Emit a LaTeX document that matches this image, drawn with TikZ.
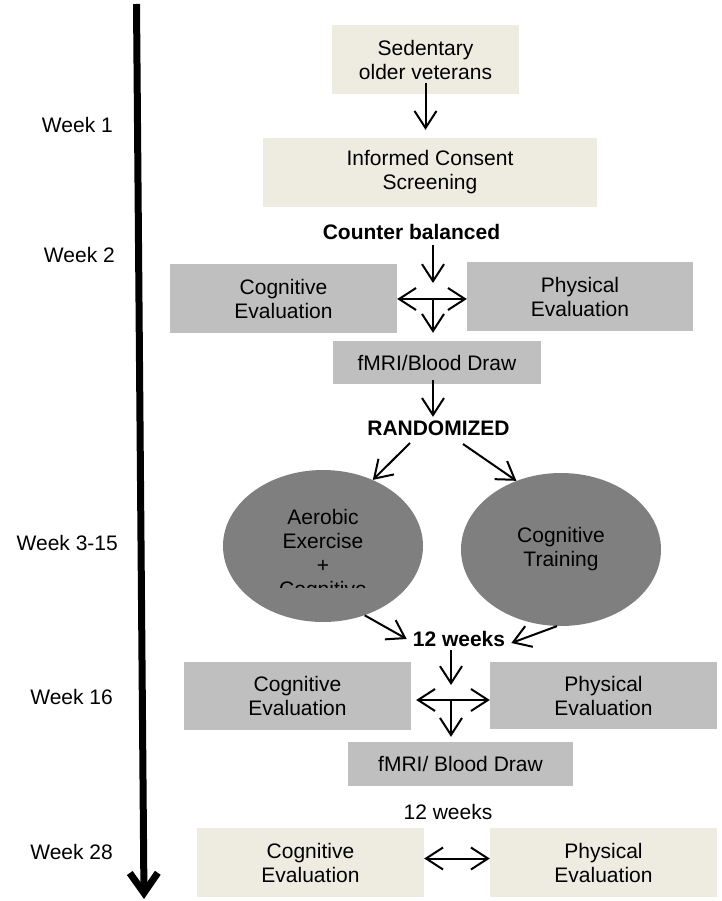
\documentclass[tikz,border=0pt]{standalone}
\usepackage{fontspec}
\setmainfont{Liberation Sans}
\usetikzlibrary{arrows.meta,shapes.geometric}
\definecolor{tanbox}{HTML}{EEECE1}
\definecolor{greybox}{HTML}{BFBFBF}
\definecolor{greyoval}{HTML}{7F7F7F}

\begin{document}
\begin{tikzpicture}
[x=1pt, y=-1pt, font={\fontsize{21}{24}\selectfont},
ar/.style={-{Straight Barb[length=17pt,width=22pt]}, line width=2pt},
dar/.style={{Straight Barb[length=17pt,width=22pt]}-{Straight Barb[length=17pt,width=22pt]}, line width=2pt},
mybox/.style={
  rectangle, inner sep=0pt, minimum width=227pt, minimum height=69pt,
  align=center
  }
]

\tikzstyle{tannode}  =  [mybox, fill=tanbox]
\tikzstyle{greynode}  =  [mybox, fill=greybox]
\tikzstyle{ovalnode}  =  [ellipse, fill=greyoval, inner sep=0pt, minimum width=200pt, minimum height=152pt, align=center]
\tikzstyle{weeknode}  =  [anchor=east, inner sep=0pt]
\tikzstyle{plaintext}  =  [inner sep=0pt, align=center]

\useasboundingbox (0,0) rectangle (721,901);

% timeline
\coordinate (tltop) at (136.5,4);
\coordinate (tlend) at (144,899);
\draw[line width=7pt, -{Straight Barb[length=20pt,width=28pt]}] (tltop) -- (tlend);

\node[weeknode] (wk1) at (113,125) {Week 1};
\node[weeknode] (wk2) at (115,255) {Week 2};
\node[weeknode] (wk3) at (118,543) {Week 3-15};
\node[weeknode] (wk16) at (113,697) {Week 16};
\node[weeknode] (wk28) at (113,852) {Week 28};

\node[tannode, minimum width=187pt] (sed) at (425.5,59.5) {Sedentary\\older veterans};
\node[tannode, minimum width=334pt] (cons) at (430,172.5) {Informed Consent\\Screening};
\node[plaintext] (cb) at (411.5,232) {\bfseries Counter balanced};

\node[greynode] (cog1) at (283.5,298.5) {Cognitive\\Evaluation};
\node[greynode, minimum width=226pt] (phy1) at (580,296.5) {Physical\\Evaluation};
\node[greynode, minimum width=208pt, minimum height=43pt] (mri1) at (437,362.5) {fMRI/Blood Draw};
\node[plaintext] (rand) at (438.5,428) {\bfseries RANDOMIZED};

\node[ovalnode] (aer) at (323,546) {};
\begin{scope}
\clip (aer.west |- aer.north) rectangle ([yshift=-41pt]aer.east);
\node[plaintext] (aertxt) at (323,555) {Aerobic\\Exercise\\+\\Cognitive};
\end{scope}
\node[ovalnode, minimum height=153pt] (cogtr) at (561,549.5) {Cognitive\\Training};
\node[plaintext] (twa) at (459,639) {\bfseries 12 weeks};

\node[greynode, minimum height=68pt] (cog2) at (297.5,696) {Cognitive\\Evaluation};
\node[greynode, minimum height=67pt] (phy2) at (603.5,695.5) {Physical\\Evaluation};
\node[greynode, minimum width=225pt, minimum height=44pt] (mri2) at (460.5,764) {fMRI/ Blood Draw};
\node[plaintext] (twb) at (448,812) {12 weeks};

\node[tannode] (cog3) at (310.5,862.5) {Cognitive\\Evaluation};
\node[tannode] (phy3) at (603.5,862.5) {Physical\\Evaluation};

%edges
\coordinate (x1) at (433,299);
\coordinate (x2) at (451,700);

\draw[ar, shorten <=-11pt, shorten >=8pt] (sed.south) -- (sed.south |- cons.north);
\draw[ar, shorten <=5pt, shorten >=16pt] (cb.south -| x1) -- (x1);
\draw[dar] (cog1.east |- x1) -- (phy1.west |- x1);
\draw[ar, shorten >=8pt] (x1) -- (x1 |- mri1.north);
\draw[ar, shorten <=-4pt, shorten >=3.5pt] (mri1.south -| x1) -- (rand.north -| x1);

\draw[ar] ([xshift=-28.5pt,yshift=-15pt]rand.center) -- (aer.53);
\draw[ar] ([xshift=24.5pt,yshift=-16pt]rand.center) -- (cogtr.123);
\draw[ar] (aer.-59) -- ([xshift=-6pt]twa.west);
\draw[ar] (cogtr.-93) -- ([xshift=6pt,yshift=-4pt]twa.east);

\draw[ar, shorten <=3.5pt, shorten >=15pt] (twa.south -| x2) -- (x2);
\draw[dar, shorten <=5pt] (cog2.east |- x2) -- (phy2.west |- x2);
\draw[ar, shorten >=5pt] (x2) -- (x2 |- mri2.north);

\draw[dar] ([yshift=4pt]cog3.east) -- ([yshift=4pt]phy3.west);

\end{tikzpicture}
\end{document}
